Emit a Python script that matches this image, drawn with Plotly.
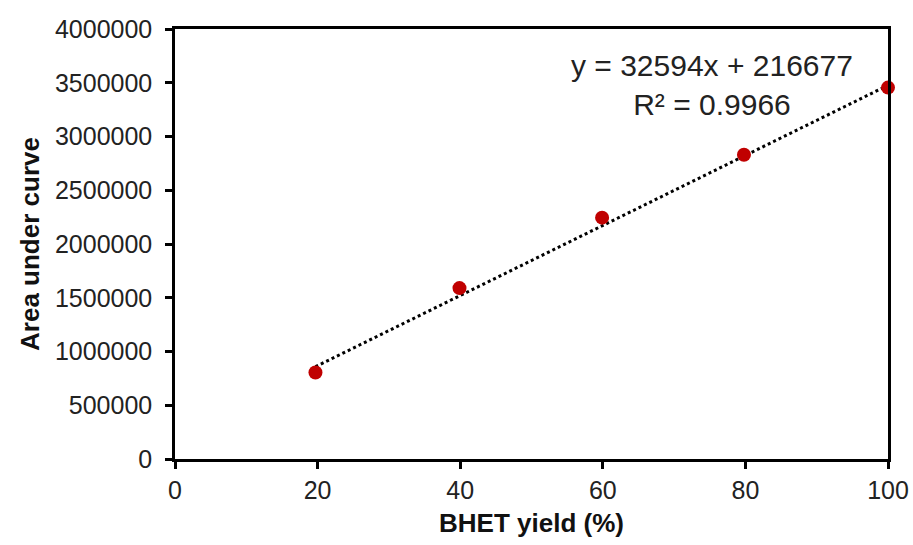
import plotly.graph_objects as go

# Data
bhet_yield = [19.7, 39.9, 59.9, 79.8, 100.0]
area_under_curve = [805000, 1590000, 2245000, 2830000, 3455000]
slope = 32594
intercept = 216677
r_squared = 0.9966
x_ticks = [0, 20, 40, 60, 80, 100]
y_ticks = [0, 500000, 1000000, 1500000, 2000000, 2500000, 3000000, 3500000, 4000000]

trend_x = [min(bhet_yield), max(bhet_yield)]
trend_y = [slope * v + intercept for v in trend_x]

fig = go.Figure()
fig.add_trace(go.Scatter(
    x=trend_x, y=trend_y, mode="lines",
    line=dict(color="black", width=3, dash="dot"),
    hoverinfo="skip", showlegend=False,
))
fig.add_trace(go.Scatter(
    x=bhet_yield, y=area_under_curve, mode="markers",
    marker=dict(color="#C00000", size=14),
    showlegend=False, cliponaxis=False,
))

font_family = "Liberation Sans, Arial, sans-serif"
fig.add_annotation(
    x=0.753, y=0.87, xref="paper", yref="paper",
    text=f"y = {slope}x + {intercept}<br>R² = {r_squared}",
    showarrow=False, align="center",
    font=dict(family=font_family, size=30, color="#222"),
    xanchor="center", yanchor="middle",
)

fig.update_layout(
    width=913, height=545,
    margin=dict(l=175, r=25, t=29, b=86),
    paper_bgcolor="white", plot_bgcolor="white",
    font=dict(family=font_family, color="#222"),
)
fig.update_xaxes(
    range=[0, 100], tickvals=x_ticks, ticktext=[str(v) for v in x_ticks],
    showgrid=False, zeroline=False, automargin=False,
    showline=True, linecolor="black", linewidth=2.5, mirror=True,
    ticks="outside", ticklen=7, tickwidth=2.5, tickcolor="black",
    tickfont=dict(size=25, color="#222"),
    title=dict(text="<b>BHET yield (%)</b>", font=dict(size=26, color="#111"), standoff=12),
)
fig.update_yaxes(
    range=[0, 4000000], tickvals=y_ticks, ticktext=[str(v) for v in y_ticks],
    showgrid=False, zeroline=False, automargin=False,
    showline=True, linecolor="black", linewidth=2.5, mirror=True,
    ticks="outside", ticklen=7, tickwidth=2.5, tickcolor="black",
    tickfont=dict(size=25, color="#222"),
    ticklabelstandoff=8,
    title=dict(text="<b>Area under curve</b>", font=dict(size=26, color="#111"), standoff=8),
)

fig.write_html("out.html")
